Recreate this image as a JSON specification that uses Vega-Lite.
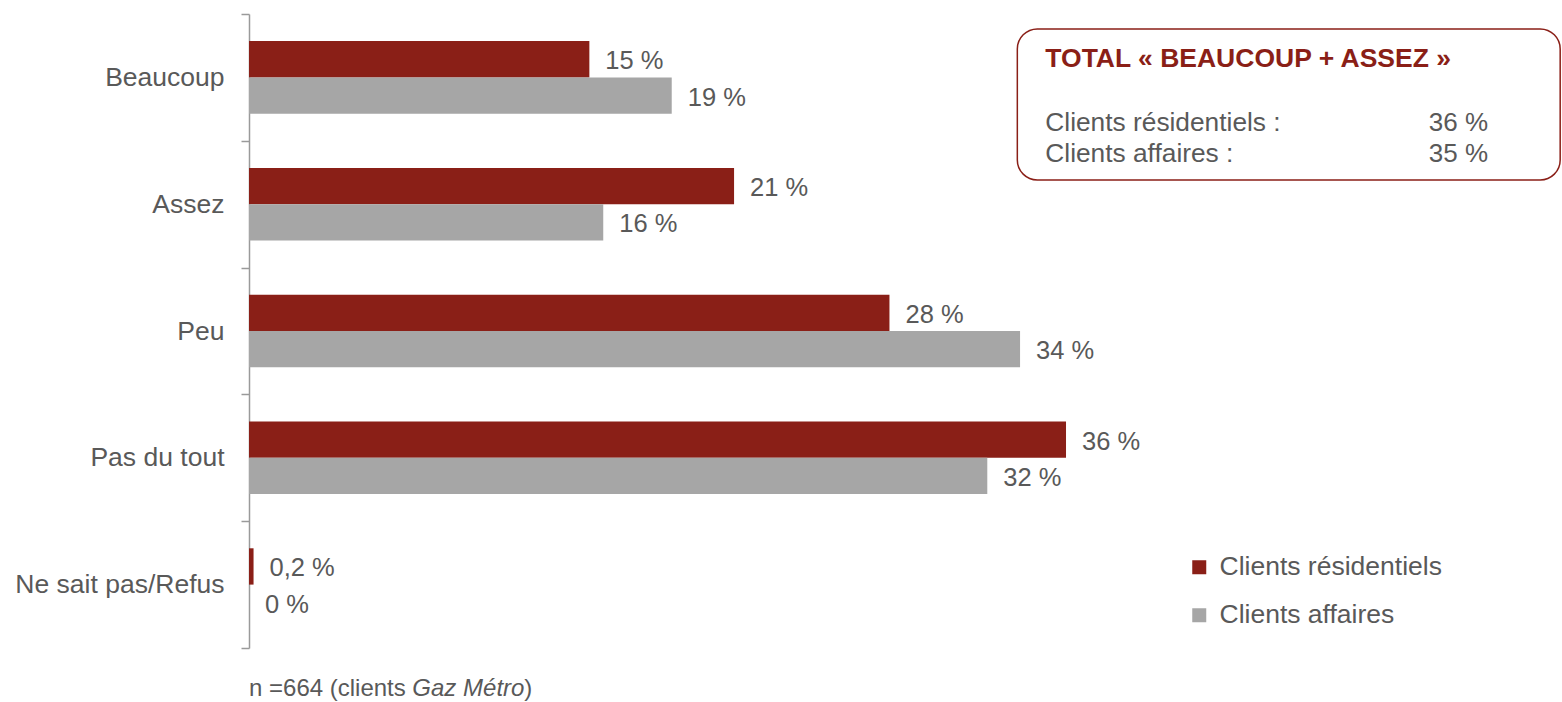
{
  "$schema": "https://vega.github.io/schema/vega-lite/v6.json",
  "width": 1313,
  "height": 634,
  "autosize": {"type": "none"},
  "padding": {"left": 249, "top": 14, "right": 0, "bottom": 54},
  "background": "white",
  "config": {"view": {"stroke": null}, "font": "Liberation Sans"},
  "datasets": {
    "bars": [
      {"category": "Beaucoup", "series": "Clients résidentiels", "value": 14.96, "label": "15 %"},
      {"category": "Beaucoup", "series": "Clients affaires", "value": 18.58, "label": "19 %"},
      {"category": "Assez", "series": "Clients résidentiels", "value": 21.32, "label": "21 %"},
      {"category": "Assez", "series": "Clients affaires", "value": 15.57, "label": "16 %"},
      {"category": "Peu", "series": "Clients résidentiels", "value": 28.15, "label": "28 %"},
      {"category": "Peu", "series": "Clients affaires", "value": 33.89, "label": "34 %"},
      {"category": "Pas du tout", "series": "Clients résidentiels", "value": 35.91, "label": "36 %"},
      {"category": "Pas du tout", "series": "Clients affaires", "value": 32.45, "label": "32 %"},
      {"category": "Ne sait pas/Refus", "series": "Clients résidentiels", "value": 0.2, "label": "0,2 %"},
      {"category": "Ne sait pas/Refus", "series": "Clients affaires", "value": 0, "label": "0 %"}
    ],
    "box": [{"x0": 33.77, "x1": 57.63, "y0": 0.118, "y1": 1.309}],
    "boxtitle": [{"x": 35.0, "y": 0.4156, "text": "TOTAL « BEAUCOUP + ASSEZ »"}],
    "boxrows": [
      {"label": "Clients résidentiels :", "value": "36 %", "xl": 35.0, "xv": 54.46, "y": 0.923},
      {"label": "Clients affaires :", "value": "35 %", "xl": 35.0, "xv": 54.46, "y": 1.165}
    ],
    "footnormal": [
      {"x": 0, "y": 5.323, "text": "n =664 (clients"},
      {"x": 12.1, "y": 5.323, "text": ")"}
    ],
    "footitalic": [
      {"x": 7.18, "y": 5.323, "text": "Gaz Métro"}
    ]
  },
  "layer": [
    {
      "data": {"name": "bars"},
      "encoding": {
        "y": {
          "field": "category",
          "type": "nominal",
          "sort": ["Beaucoup", "Assez", "Peu", "Pas du tout", "Ne sait pas/Refus"],
          "scale": {"paddingInner": 0, "paddingOuter": 0},
          "axis": {
            "title": null,
            "tickBand": "extent",
            "tickSize": 8,
            "tickWidth": 1.5,
            "tickColor": "#9A9A9A",
            "domainColor": "#9A9A9A",
            "domainWidth": 1.5,
            "labelFontSize": 26.5,
            "labelColor": "#595959",
            "labelPadding": 17,
            "labelLimit": 0,
            "labelFont": "Liberation Sans",
            "grid": false
          }
        },
        "yOffset": {
          "field": "series",
          "type": "nominal",
          "sort": ["Clients résidentiels", "Clients affaires"],
          "scale": {"paddingInner": 0, "paddingOuter": 0.746}
        },
        "x": {
          "field": "value",
          "type": "quantitative",
          "scale": {"domain": [0, 57.71], "nice": false},
          "axis": null
        }
      },
      "layer": [
        {
          "mark": {"type": "bar"},
          "encoding": {
            "color": {
              "field": "series",
              "type": "nominal",
              "scale": {
                "domain": ["Clients résidentiels", "Clients affaires"],
                "range": ["#8A1F17", "#A6A6A6"]
              },
              "legend": {
                "title": null,
                "orient": "none",
                "legendX": 937,
                "legendY": 540,
                "symbolType": "square",
                "symbolSize": 196,
                "symbolStrokeWidth": 0,
                "labelFontSize": 26.5,
                "labelColor": "#595959",
                "labelOffset": 7,
                "labelLimit": 0,
                "rowPadding": 21,
                "labelFont": "Liberation Sans"
              }
            }
          }
        },
        {
          "mark": {"type": "text", "align": "left", "baseline": "middle", "dx": 16, "dy": 2, "fontSize": 25.5, "color": "#595959"},
          "encoding": {"text": {"field": "label"}}
        }
      ]
    },
    {
      "encoding": {},
      "layer": [
        {
          "data": {"name": "box"},
          "mark": {"type": "rect", "fill": "white", "fillOpacity": 0, "stroke": "#8A1F17", "strokeWidth": 1.5, "cornerRadius": 20},
          "encoding": {
            "x": {"field": "x0", "type": "quantitative", "scale": {"domain": [0, 57.71], "nice": false}, "axis": null},
            "x2": {"field": "x1"},
            "y": {"field": "y0", "type": "quantitative", "scale": {"domain": [0, 5], "nice": false, "zero": false, "reverse": true}, "axis": null},
            "y2": {"field": "y1"}
          }
        },
        {
          "data": {"name": "boxtitle"},
          "mark": {"type": "text", "align": "left", "baseline": "alphabetic", "fontSize": 26.5, "fontWeight": "bold", "color": "#8A1F17"},
          "encoding": {
            "x": {"field": "x", "type": "quantitative"},
            "y": {"field": "y", "type": "quantitative"},
            "text": {"field": "text"}
          }
        },
        {
          "data": {"name": "boxrows"},
          "mark": {"type": "text", "align": "left", "baseline": "alphabetic", "fontSize": 26.3, "color": "#595959"},
          "encoding": {
            "x": {"field": "xl", "type": "quantitative"},
            "y": {"field": "y", "type": "quantitative"},
            "text": {"field": "label"}
          }
        },
        {
          "data": {"name": "boxrows"},
          "mark": {"type": "text", "align": "right", "baseline": "alphabetic", "fontSize": 26, "color": "#595959"},
          "encoding": {
            "x": {"field": "xv", "type": "quantitative"},
            "y": {"field": "y", "type": "quantitative"},
            "text": {"field": "value"}
          }
        },
        {
          "data": {"name": "footnormal"},
          "mark": {"type": "text", "align": "left", "baseline": "middle", "fontSize": 24, "color": "#595959"},
          "encoding": {
            "x": {"field": "x", "type": "quantitative"},
            "y": {"field": "y", "type": "quantitative"},
            "text": {"field": "text"}
          }
        },
        {
          "data": {"name": "footitalic"},
          "mark": {"type": "text", "align": "left", "baseline": "middle", "fontSize": 24, "fontStyle": "italic", "color": "#595959"},
          "encoding": {
            "x": {"field": "x", "type": "quantitative"},
            "y": {"field": "y", "type": "quantitative"},
            "text": {"field": "text"}
          }
        }
      ]
    }
  ],
  "resolve": {"scale": {"y": "independent"}}
}
